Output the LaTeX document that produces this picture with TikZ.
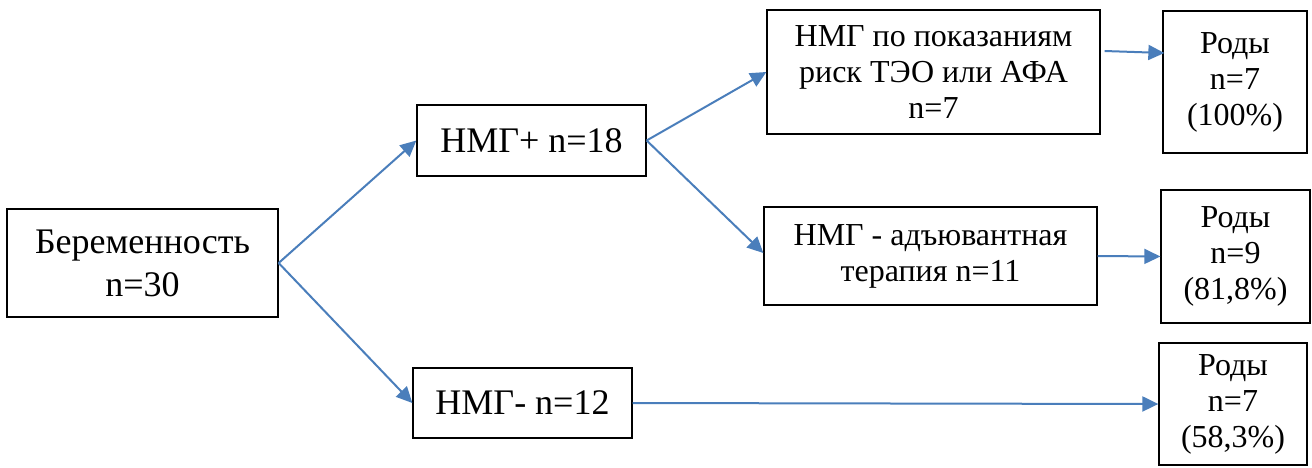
\documentclass[tikz,border=0pt]{standalone}
\usepackage{fontspec}
\setmainfont{Liberation Serif}
\usetikzlibrary{arrows.meta,calc}
\definecolor{arr}{RGB}{74,126,187}
\begin{document}
\begin{tikzpicture}[x=1pt,y=-1pt,
 box/.style={draw=black,line width=1.3pt,inner sep=0pt,align=center},
 big/.style={font=\fontsize{36}{43}\selectfont},
 small/.style={font=\fontsize{32}{36}\selectfont},
 conn/.style={draw=arr,line width=2pt,-{Triangle[length=16pt,width=15pt]}}]
\useasboundingbox (0,0) rectangle (1312,467);
\node[box,big,minimum width=271pt,minimum height=108pt] (b) at (142.5,263) {Беременность\\n=30};
\node[box,big,minimum width=229pt,minimum height=71pt] (p) at (531.5,140.5) {НМГ+ n=18};
\node[box,big,minimum width=219pt,minimum height=70pt] (m) at (522.5,403) {НМГ- n=12};
\node[box,small,minimum width=333pt,minimum height=124pt] (p1) at (933.5,72) {НМГ по показаниям\\риск ТЭО или АФА\\n=7};
\node[box,small,minimum width=333pt,minimum height=98pt] (p2) at (930.5,256) {НМГ - адъювантная\\терапия n=11};
\node[box,small,minimum width=144pt,minimum height=142pt] (r1) at (1235,82) {Роды\\n=7\\(100\%)};
\node[box,small,minimum width=149pt,minimum height=133pt] (r2) at (1235.5,256.5) {Роды\\n=9\\(81,8\%)};
\node[box,small,minimum width=148pt,minimum height=122pt] (r3) at (1233,404) {Роды\\n=7\\(58,3\%)};
\draw[conn] (b.east) -- (p.west);
\draw[conn] (b.east) -- (m.west);
\draw[conn] (p.east) -- (p1.west);
\draw[conn] (p.east) -- ($(p2.west)+(0,-3)$);
\draw[conn] ($(p1.east)+(4,-21)$) -- ($(r1.west)+(2,-29)$);
\draw[conn] (p2.east) -- (r2.west);
\draw[conn] (m.east) -- (r3.west);
\end{tikzpicture}
\end{document}
